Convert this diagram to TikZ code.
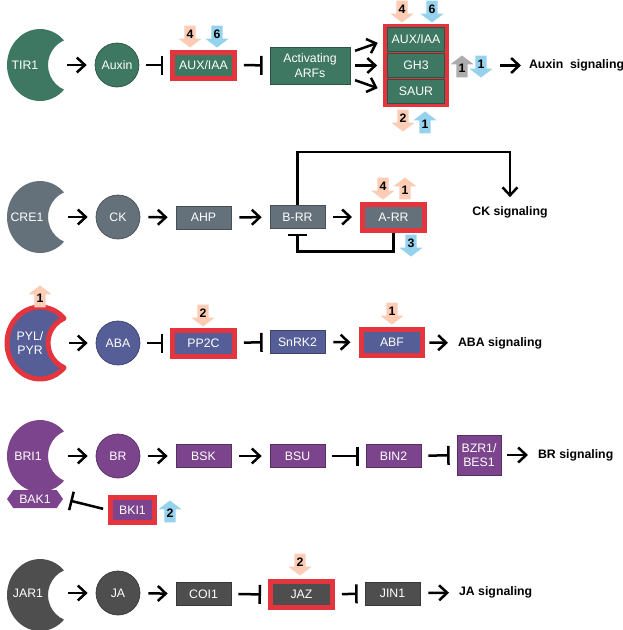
\documentclass[tikz,border=0pt]{standalone}
\usepackage{fontspec}
\setmainfont{Liberation Sans}
\usetikzlibrary{arrows.meta,shapes.arrows,shapes.symbols}

\definecolor{auxgreen}{RGB}{62,120,98}
\definecolor{ckgray}{RGB}{100,113,122}
\definecolor{ababblue}{RGB}{86,94,152}
\definecolor{brpurple}{RGB}{124,68,140}
\definecolor{jagray}{RGB}{78,78,78}
\definecolor{hitred}{RGB}{228,52,62}
\definecolor{peach}{RGB}{252,204,180}
\definecolor{skyblue}{RGB}{148,210,238}
\definecolor{midgray}{RGB}{172,172,172}

% receptor: #1,#2 centre, #3 path options
\newcommand{\crescent}[3]{%
  \path[#3] (#1,#2) ++(43.3:33 and 36) arc[start angle=43.3, end angle=316.7, x radius=33, y radius=36]
    arc[start angle=246, end angle=114, radius=27] -- cycle;}

\begin{document}
\begin{tikzpicture}
 [
 x=0.02cm, y=-0.02cm,
 font=\fontsize{7}{8.4}\selectfont,
 pbox/.style={rectangle, fill=#1, draw=#1!70!black, text=white, minimum width=1.1cm, minimum height=0.46cm, inner sep=1pt},
 ball/.style={circle, fill=#1, draw=#1!70!black, text=white, minimum size=0.88cm, inner sep=0pt},
 hit/.style={draw=hitred, line width=0.1cm, minimum width=1.24cm, minimum height=0.52cm},
 rtext/.style={text=white, inner sep=1pt, align=center},
 sig/.style={font=\fontsize{7}{8.4}\selectfont\bfseries, anchor=west, inner sep=1pt},
 act/.style={-{Straight Barb[length=0.16cm, width=0.3cm]}, line width=0.05cm, shorten <=0.16cm, shorten >=0.16cm},
 inh/.style={-{Bar[width=0.38cm]}, line width=0.05cm, shorten <=0.14cm, shorten >=0.14cm},
 barrow/.style={single arrow, single arrow head extend=0.1cm, single arrow tip angle=105, minimum width=0.46cm, minimum height=0.44cm, inner sep=0.5pt, anchor=tip, font=\fontsize{7}{8}\selectfont\bfseries},
 dnarrow/.style={barrow, shape border rotate=270, fill=#1},
 uparrow/.style={barrow, shape border rotate=90, fill=#1},
 hexa/.style={signal, signal to=east and west, signal pointer angle=110, fill=brpurple, text=white, minimum width=1.12cm, minimum height=0.36cm, inner sep=0.5pt}
 ]
 \useasboundingbox (0,0) rectangle (623,630);

 % auxin
 \crescent{40}{65}{fill=auxgreen}
 \node at (25,65) [rtext] (tir1) {TIR1};
 \coordinate (tir1r) at (67,65);
 \node at (117,65) [ball=auxgreen] (auxin) {Auxin};
 \node at (203.5,65) [pbox=auxgreen, hit] (auxiaa) {AUX/IAA};
 \node at (310,65.5) [pbox=auxgreen, minimum width=1.6cm, minimum height=0.74cm, align=center] (arfs) {Activating\\ARFs};
 \node at (416,65.5) [rectangle, fill=hitred, minimum width=1.32cm, minimum height=1.68cm] (stack) {};
 \node at (416,39.5) [pbox=auxgreen, minimum width=1.14cm, minimum height=0.48cm] (aux2) {AUX/IAA};
 \node at (416,65.5) [pbox=auxgreen, minimum width=1.14cm, minimum height=0.48cm] (gh3) {GH3};
 \node at (416,91.5) [pbox=auxgreen, minimum width=1.14cm, minimum height=0.48cm] (saur) {SAUR};
 \node at (527,65.5) [sig] (auxsig) {Auxin~ signaling};
 \node at (190,48) [dnarrow=peach] (a1) {4};
 \node at (217,48) [dnarrow=skyblue] (a2) {6};
 \node at (402,23) [dnarrow=peach] (a3) {4};
 \node at (432,23) [dnarrow=skyblue] (a4) {6};
 \node at (462,55) [uparrow=midgray] (a5) {1};
 \node at (481,78) [dnarrow=skyblue] (a6) {1};
 \node at (403,132) [dnarrow=peach] (a7) {2};
 \node at (425,111) [uparrow=skyblue] (a8) {1};
 \draw[act, shorten <=0pt] (tir1r) -- (auxin);
 \draw[inh] (auxin) -- (auxiaa);
 \draw[inh] (auxiaa) -- (arfs);
 \draw[act, shorten <=0.1cm, shorten >=0.2cm] ([yshift=0.26cm]arfs.east) -- (aux2.west);
 \draw[act, shorten <=0.1cm, shorten >=0.2cm] (arfs.east) -- (gh3.west);
 \draw[act, shorten <=0.1cm, shorten >=0.2cm] ([yshift=-0.26cm]arfs.east) -- (saur.west);
 \draw[act, shorten <=1.02cm, shorten >=0.12cm] (stack) -- (auxsig);

 % cytokinin
 \crescent{40}{217}{fill=ckgray}
 \node at (27,217) [rtext] (cre1) {CRE1};
 \coordinate (cre1r) at (68,217);
 \node at (118,217) [ball=ckgray] (ck) {CK};
 \node at (203.5,217.5) [pbox=ckgray] (ahp) {AHP};
 \node at (297.5,217) [pbox=ckgray] (brr) {B-RR};
 \node at (393.5,217) [pbox=ckgray, hit] (arr) {A-RR};
 \node at (510,212) [font=\fontsize{7}{8.4}\selectfont\bfseries, inner sep=1pt] (cksig) {CK signaling};
 \node at (383,200) [dnarrow=peach] (c1) {4};
 \node at (405,177) [uparrow=peach] (c2) {1};
 \node at (411,257) [dnarrow=skyblue] (c3) {3};
 \draw[act, shorten <=0pt] (cre1r) -- (ck);
 \draw[act] (ck) -- (ahp);
 \draw[act] (ahp) -- (brr);
 \draw[act] (brr) -- (arr);
 \draw[act, shorten <=0pt, shorten >=0.14cm] (brr.north) -- ++(0,-53) -| (cksig.north);
 \draw[inh, shorten <=0pt, shorten >=0.1cm] (arr.south) -- ++(0,19) -| (brr.south);

 % abscisic acid
 \crescent{40}{343}{fill=ababblue, draw=hitred, line width=0.1cm, line join=round}
 \node at (30,343) [rtext] (pyl) {PYL/\\PYR};
 \coordinate (pylr) at (69,343);
 \node at (118,343) [ball=ababblue] (aba) {ABA};
 \node at (203.5,343) [pbox=ababblue, hit] (pp2c) {PP2C};
 \node at (297.5,342) [pbox=ababblue] (snrk2) {SnRK2};
 \node at (392,342.5) [pbox=ababblue, hit] (abf) {ABF};
 \node at (456,343) [sig] (abasig) {ABA signaling};
 \node at (40,285) [uparrow=peach] (b1) {1};
 \node at (203,327) [dnarrow=peach] (b2) {2};
 \node at (392,325) [dnarrow=peach] (b3) {1};
 \draw[act, shorten <=0pt] (pylr) -- (aba);
 \draw[inh] (aba) -- (pp2c);
 \draw[inh] (pp2c) -- (snrk2);
 \draw[act] (snrk2) -- (abf);
 \draw[act, shorten <=0.08cm] (abf) -- (abasig);

 % brassinosteroid
 \crescent{40}{456}{fill=brpurple}
 \node at (28,456) [rtext] (bri1) {BRI1};
 \coordinate (bri1r) at (68,456);
 \node at (35,499) [hexa] (bak1) {BAK1};
 \node at (118,456) [ball=brpurple] (br) {BR};
 \node at (203.5,456) [pbox=brpurple] (bsk) {BSK};
 \node at (297.5,456) [pbox=brpurple] (bsu) {BSU};
 \node at (393.5,456) [pbox=brpurple] (bin2) {BIN2};
 \node at (479,455) [pbox=brpurple, minimum width=0.88cm, minimum height=0.8cm, align=center] (bzr1) {BZR1/\\BES1};
 \node at (536,455) [sig] (brsig) {BR signaling};
 \node at (132.5,510) [pbox=brpurple, hit, minimum width=0.88cm, minimum height=0.5cm] (bki1) {BKI1};
 \node at (170,500) [uparrow=skyblue] (d1) {2};
 \draw[act, shorten <=0pt] (bri1r) -- (br);
 \draw[act] (br) -- (bsk);
 \draw[act] (bsk) -- (bsu);
 \draw[inh] (bsu) -- (bin2);
 \draw[inh] (bin2) -- (bzr1);
 \draw[act, shorten <=0.12cm] (bzr1) -- (brsig);
 \draw[inh, shorten <=0.1cm] (bki1.west) -- (bak1.east);

 % jasmonate
 \crescent{40}{595}{fill=jagray}
 \node at (28,593) [rtext] (jar1) {JAR1};
 \coordinate (jar1r) at (68,593);
 \node at (118,593) [ball=jagray] (ja) {JA};
 \node at (203.5,594) [pbox=jagray] (coi1) {COI1};
 \node at (301.5,594.5) [pbox=jagray, hit] (jaz) {JAZ};
 \node at (392.5,593.5) [pbox=jagray] (jin1) {JIN1};
 \node at (457,592) [sig] (jasig) {JA signaling};
 \node at (300,576) [dnarrow=peach] (e1) {2};
 \draw[act, shorten <=0pt] (jar1r) -- (ja);
 \draw[act] (ja) -- (coi1);
 \draw[inh] (coi1) -- (jaz);
 \draw[inh] (jaz) -- (jin1);
 \draw[act] (jin1) -- (jasig);
 %\node at (300,640) [sig] (note) {};
\end{tikzpicture}
\end{document}
